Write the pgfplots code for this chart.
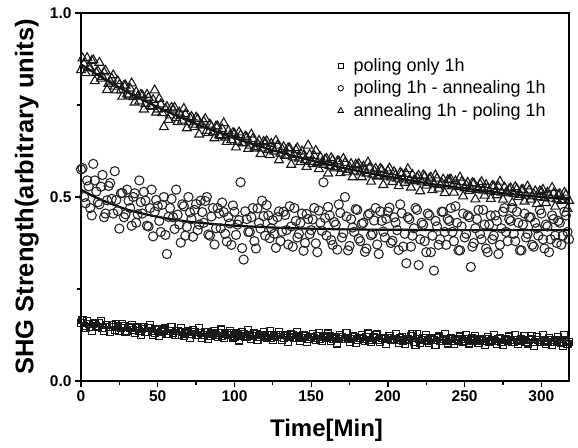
\documentclass[border=0pt]{standalone}
\usepackage{fontspec}
\setmainfont{Liberation Sans}
\usepackage{pgfplots}
\pgfplotsset{compat=1.18}
\usepackage{pgfplotstable}

% measured points: t [min], poling only, poling-annealing, annealing-poling
% (even minutes)
\pgfplotstableread{
t sq ci tr
0 0.158 0.575 0.845
2 0.150 0.500 0.862
4 0.162 0.545 0.878
6 0.147 0.470 0.850
8 0.155 0.590 0.872
10 0.149 0.515 0.838
12 0.157 0.480 0.865
14 0.144 0.560 0.826
16 0.152 0.455 0.843
18 0.146 0.530 0.808
20 0.151 0.495 0.822
22 0.139 0.570 0.800
24 0.148 0.462 0.815
26 0.143 0.510 0.790
28 0.150 0.445 0.803
30 0.137 0.520 0.779
32 0.144 0.470 0.795
34 0.139 0.500 0.772
36 0.146 0.430 0.785
38 0.135 0.545 0.760
40 0.141 0.455 0.776
42 0.134 0.490 0.753
44 0.143 0.420 0.770
46 0.136 0.520 0.745
48 0.131 0.460 0.790
50 0.139 0.475 0.738
52 0.133 0.405 0.752
54 0.140 0.500 0.690
56 0.128 0.345 0.745
58 0.136 0.470 0.722
60 0.131 0.445 0.738
62 0.137 0.520 0.715
64 0.126 0.425 0.730
66 0.133 0.480 0.708
68 0.129 0.395 0.725
70 0.135 0.500 0.703
72 0.127 0.440 0.718
74 0.132 0.465 0.690
76 0.124 0.410 0.712
78 0.130 0.490 0.695
80 0.126 0.430 0.705
82 0.133 0.500 0.680
84 0.123 0.395 0.697
86 0.128 0.470 0.676
88 0.125 0.415 0.692
90 0.131 0.455 0.668
92 0.122 0.485 0.685
94 0.127 0.400 0.662
96 0.124 0.445 0.680
98 0.130 0.370 0.655
100 0.121 0.460 0.672
102 0.126 0.425 0.650
104 0.123 0.540 0.668
106 0.128 0.330 0.646
108 0.120 0.440 0.662
110 0.125 0.405 0.640
112 0.122 0.470 0.658
114 0.127 0.360 0.636
116 0.119 0.430 0.653
118 0.124 0.490 0.632
120 0.121 0.395 0.648
122 0.126 0.450 0.628
124 0.118 0.415 0.645
126 0.123 0.400 0.624
128 0.120 0.445 0.640
130 0.124 0.380 0.618
132 0.117 0.460 0.636
134 0.122 0.410 0.612
136 0.119 0.475 0.632
138 0.125 0.365 0.608
140 0.116 0.435 0.628
142 0.121 0.400 0.605
144 0.118 0.455 0.624
146 0.123 0.375 0.600
148 0.115 0.440 0.640
150 0.120 0.410 0.596
152 0.117 0.470 0.612
154 0.122 0.350 0.592
156 0.114 0.430 0.608
158 0.119 0.540 0.588
160 0.116 0.395 0.604
162 0.121 0.450 0.585
164 0.113 0.370 0.600
166 0.118 0.425 0.581
168 0.115 0.480 0.597
170 0.120 0.390 0.577
172 0.113 0.500 0.593
174 0.118 0.355 0.574
176 0.115 0.440 0.590
178 0.119 0.405 0.570
180 0.112 0.465 0.586
182 0.117 0.380 0.567
184 0.114 0.430 0.583
186 0.119 0.360 0.564
188 0.112 0.455 0.580
190 0.116 0.400 0.561
192 0.126 0.470 0.577
194 0.111 0.345 0.558
196 0.116 0.435 0.574
198 0.113 0.390 0.556
200 0.118 0.460 0.571
202 0.111 0.375 0.553
204 0.115 0.445 0.568
206 0.112 0.410 0.550
208 0.117 0.480 0.566
210 0.110 0.365 0.548
212 0.115 0.320 0.563
214 0.112 0.440 0.545
216 0.127 0.395 0.560
218 0.099 0.470 0.543
220 0.114 0.315 0.558
222 0.111 0.430 0.540
224 0.116 0.380 0.556
226 0.110 0.455 0.538
228 0.114 0.350 0.553
230 0.111 0.300 0.535
232 0.116 0.420 0.550
234 0.109 0.385 0.533
236 0.113 0.460 0.548
238 0.110 0.370 0.531
240 0.115 0.435 0.546
242 0.109 0.405 0.529
244 0.113 0.475 0.543
246 0.110 0.355 0.527
248 0.114 0.420 0.541
250 0.108 0.390 0.524
252 0.113 0.450 0.539
254 0.110 0.310 0.522
256 0.114 0.375 0.537
258 0.108 0.440 0.520
260 0.112 0.400 0.535
262 0.109 0.465 0.518
264 0.113 0.360 0.533
266 0.107 0.425 0.516
268 0.112 0.385 0.530
270 0.109 0.450 0.514
272 0.113 0.345 0.528
274 0.107 0.415 0.512
276 0.111 0.470 0.526
278 0.108 0.380 0.510
280 0.112 0.435 0.524
282 0.106 0.400 0.508
284 0.111 0.460 0.522
286 0.108 0.355 0.506
288 0.112 0.425 0.520
290 0.106 0.390 0.504
292 0.111 0.445 0.518
294 0.122 0.370 0.502
296 0.107 0.430 0.516
298 0.111 0.395 0.500
300 0.106 0.455 0.514
302 0.110 0.360 0.498
304 0.107 0.420 0.512
306 0.111 0.385 0.496
308 0.105 0.440 0.510
310 0.110 0.375 0.494
312 0.107 0.430 0.508
314 0.095 0.395 0.492
316 0.110 0.450 0.506
318 0.106 0.385 0.490
}\shg

% odd minutes
\pgfplotstableread{
t sq ci tr
1 0.165 0.578 0.877
3 0.144 0.483 0.837
5 0.155 0.529 0.852
7 0.136 0.450 0.870
9 0.158 0.545 0.815
11 0.146 0.486 0.842
13 0.163 0.528 0.822
15 0.137 0.445 0.839
17 0.152 0.491 0.791
19 0.133 0.538 0.814
21 0.147 0.455 0.831
23 0.154 0.492 0.790
25 0.137 0.414 0.805
27 0.156 0.511 0.773
29 0.132 0.453 0.803
31 0.146 0.490 0.776
33 0.152 0.422 0.809
35 0.131 0.510 0.757
37 0.143 0.453 0.773
39 0.124 0.486 0.778
41 0.147 0.514 0.738
43 0.134 0.422 0.778
45 0.152 0.470 0.748
47 0.126 0.393 0.764
49 0.141 0.492 0.730
51 0.123 0.435 0.767
53 0.136 0.479 0.728
55 0.144 0.397 0.740
57 0.128 0.446 0.710
59 0.147 0.495 0.743
61 0.124 0.413 0.743
63 0.137 0.452 0.704
65 0.143 0.376 0.721
67 0.123 0.475 0.740
69 0.134 0.419 0.687
71 0.116 0.458 0.715
73 0.138 0.392 0.697
75 0.126 0.481 0.716
77 0.144 0.425 0.670
79 0.118 0.459 0.695
81 0.134 0.489 0.712
83 0.115 0.398 0.674
85 0.129 0.447 0.691
87 0.137 0.371 0.660
89 0.120 0.470 0.692
91 0.140 0.415 0.666
93 0.117 0.459 0.701
95 0.131 0.379 0.650
97 0.137 0.428 0.667
99 0.117 0.477 0.674
101 0.129 0.397 0.635
103 0.110 0.437 0.676
105 0.133 0.361 0.647
107 0.121 0.461 0.664
109 0.138 0.405 0.631
111 0.113 0.445 0.670
113 0.129 0.380 0.632
115 0.111 0.469 0.645
117 0.124 0.414 0.617
119 0.132 0.448 0.650
121 0.116 0.478 0.652
123 0.135 0.388 0.614
125 0.112 0.437 0.632
127 0.126 0.362 0.653
129 0.132 0.461 0.600
131 0.112 0.406 0.630
133 0.124 0.451 0.613
135 0.106 0.371 0.633
137 0.128 0.420 0.588
139 0.116 0.470 0.614
141 0.134 0.390 0.633
143 0.109 0.430 0.595
145 0.124 0.354 0.612
147 0.106 0.454 0.582
149 0.120 0.399 0.615
151 0.128 0.439 0.590
153 0.112 0.374 0.626
155 0.131 0.463 0.576
157 0.108 0.408 0.594
159 0.122 0.443 0.602
161 0.129 0.473 0.564
163 0.109 0.383 0.606
165 0.120 0.432 0.578
167 0.102 0.357 0.597
169 0.125 0.457 0.565
171 0.113 0.402 0.604
173 0.131 0.447 0.567
175 0.106 0.367 0.581
177 0.121 0.417 0.554
179 0.103 0.467 0.588
181 0.117 0.387 0.590
183 0.125 0.427 0.554
185 0.109 0.351 0.572
187 0.129 0.451 0.594
189 0.106 0.396 0.542
191 0.120 0.436 0.572
193 0.127 0.371 0.556
195 0.106 0.461 0.577
197 0.118 0.406 0.533
199 0.100 0.441 0.559
201 0.123 0.471 0.578
203 0.111 0.381 0.541
205 0.128 0.431 0.559
207 0.103 0.356 0.530
209 0.119 0.456 0.563
211 0.101 0.400 0.539
213 0.115 0.445 0.576
215 0.123 0.365 0.526
217 0.107 0.415 0.545
219 0.127 0.465 0.553
221 0.104 0.385 0.516
223 0.118 0.425 0.559
225 0.124 0.350 0.531
227 0.104 0.450 0.550
229 0.116 0.395 0.519
231 0.098 0.435 0.559
233 0.121 0.370 0.523
235 0.109 0.460 0.538
237 0.127 0.405 0.511
239 0.102 0.440 0.546
241 0.118 0.470 0.548
243 0.100 0.380 0.512
245 0.113 0.430 0.531
247 0.121 0.355 0.553
249 0.105 0.455 0.502
251 0.125 0.400 0.533
253 0.102 0.445 0.517
255 0.116 0.365 0.538
257 0.123 0.415 0.494
259 0.103 0.465 0.521
261 0.115 0.385 0.541
263 0.097 0.425 0.504
265 0.120 0.350 0.524
267 0.108 0.450 0.495
269 0.126 0.395 0.529
271 0.101 0.435 0.505
273 0.117 0.370 0.542
275 0.099 0.460 0.493
277 0.113 0.405 0.512
279 0.121 0.440 0.521
281 0.105 0.470 0.484
283 0.124 0.380 0.527
285 0.101 0.430 0.500
287 0.115 0.355 0.519
289 0.122 0.455 0.488
291 0.102 0.400 0.529
293 0.114 0.445 0.493
295 0.096 0.365 0.508
297 0.119 0.415 0.481
299 0.107 0.465 0.516
301 0.125 0.385 0.520
303 0.100 0.425 0.484
305 0.116 0.350 0.503
307 0.098 0.450 0.525
309 0.112 0.395 0.474
311 0.120 0.435 0.506
313 0.104 0.370 0.490
315 0.124 0.460 0.512
317 0.101 0.405 0.468
}\shgodd

% fitted decay curves
\pgfplotstableread{
t sq ci tr
0 0.153 0.520 0.860
10 0.149 0.498 0.834
20 0.145 0.481 0.809
30 0.141 0.466 0.786
40 0.138 0.455 0.764
50 0.135 0.446 0.744
60 0.133 0.439 0.725
70 0.130 0.433 0.707
80 0.128 0.429 0.690
90 0.126 0.425 0.675
100 0.125 0.422 0.660
110 0.123 0.420 0.646
120 0.122 0.418 0.633
130 0.120 0.416 0.621
140 0.119 0.415 0.610
150 0.118 0.414 0.599
160 0.117 0.413 0.589
170 0.116 0.412 0.580
180 0.115 0.412 0.571
190 0.115 0.411 0.563
200 0.114 0.411 0.555
210 0.113 0.411 0.548
220 0.113 0.410 0.541
230 0.112 0.410 0.534
240 0.112 0.410 0.529
250 0.111 0.410 0.523
260 0.111 0.410 0.518
270 0.111 0.410 0.513
280 0.111 0.410 0.508
290 0.110 0.410 0.504
300 0.110 0.410 0.500
310 0.110 0.410 0.496
318 0.110 0.410 0.493
}\fit

\pgfplotsset{
  sqm/.style={only marks, mark=square, mark size=3.5pt,
    mark options={draw=black!90, fill=white, line width=1.1pt},
    legend image post style={mark size=2.5pt, mark options={line width=0.8pt}}},
  cim/.style={only marks, mark=o, mark size=4.6pt,
    mark options={draw=black!85, fill=white, line width=1.1pt},
    legend image post style={mark size=2.7pt, mark options={line width=0.8pt}}},
  trm/.style={only marks, mark=triangle, mark size=5.2pt,
    mark options={draw=black!90, fill=white, line width=1.1pt},
    legend image post style={mark size=3.2pt, mark options={line width=0.8pt}}},
  fitline/.style={black, line width=2.2pt, smooth, forget plot},
}

\begin{document}
\begin{tikzpicture}
\path[use as bounding box] (-81pt,-66pt) rectangle (497pt,381pt);
\begin{axis}[
  scale only axis, width=488pt, height=368pt,
  xmin=0, xmax=318, ymin=0, ymax=1,
  xtick={0,50,...,300}, ytick={0,0.5,1},
  minor x tick num=1, minor y tick num=1,
  tick pos=left, tick align=outside,
  major tick length=6pt, minor tick length=3.5pt,
  every tick/.style={black, line width=1.3pt},
  axis line style={line width=1.4pt},
  /pgf/number format/assume math mode=true,
  tick label style={font=\bfseries\fontsize{15.5}{17}\selectfont},
  yticklabel style={/pgf/number format/.cd, fixed, fixed zerofill, precision=1},
  xlabel={Time[Min]}, ylabel={SHG Strength(arbitrary units)},
  x label style={at={(axis description cs:0.503,-0.133)}, anchor=center,
    font=\bfseries\fontsize{24}{28}\selectfont},
  y label style={at={(axis description cs:-0.111,0.5)}, anchor=center,
    font=\bfseries\fontsize{25.5}{28}\selectfont},
  legend style={draw=none, fill=none, at={(axis description cs:0.52,0.888)},
    anchor=north west, font=\fontsize{18}{22}\selectfont,
    column sep=8pt, row sep=4pt},
  legend cell align=left,
]
\addplot[sqm] table[x=t,y=sq]{\shg};
\addlegendentry{poling only 1h}
\addplot[sqm, forget plot] table[x=t,y=sq]{\shgodd};
\addplot[cim] table[x=t,y=ci]{\shg};
\addlegendentry{poling 1h - annealing 1h}
\addplot[cim, forget plot] table[x=t,y=ci]{\shgodd};
\addplot[trm] table[x=t,y=tr]{\shg};
\addlegendentry{annealing 1h - poling 1h}
\addplot[trm, forget plot] table[x=t,y=tr]{\shgodd};
\addplot[fitline] table[x=t,y=sq]{\fit};
\addplot[fitline] table[x=t,y=ci]{\fit};
\addplot[fitline] table[x=t,y=tr]{\fit};
\end{axis}
\end{tikzpicture}
\end{document}
